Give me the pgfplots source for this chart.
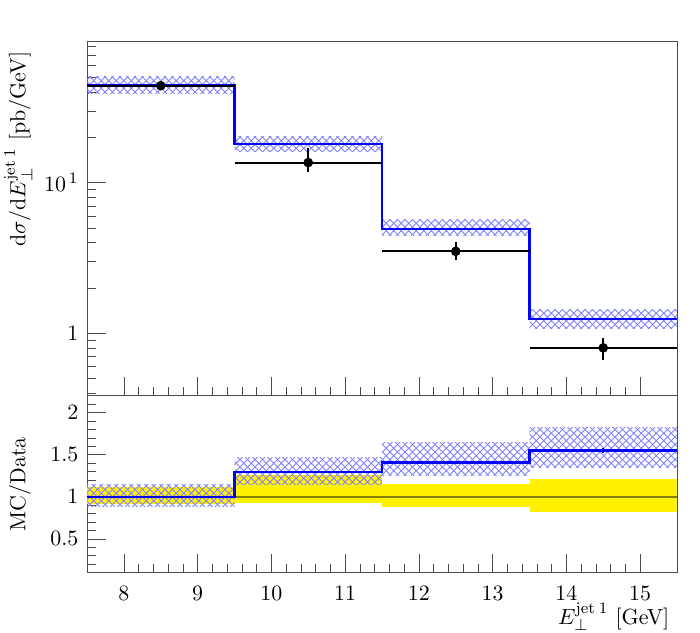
\documentclass[border=0pt]{standalone}
\usepackage{pgfplots}
\pgfplotsset{compat=1.18}
\usetikzlibrary{patterns}
\pgfdeclarepatternformonly{mycross}{\pgfqpoint{-0.5pt}{-0.5pt}}{\pgfqpoint{4.25pt}{4.25pt}}{\pgfqpoint{3.75pt}{3.75pt}}{%
 \pgfsetlinewidth{0.45pt}%
 \pgfpathmoveto{\pgfqpoint{0pt}{0pt}}\pgfpathlineto{\pgfqpoint{3.75pt}{3.75pt}}%
 \pgfpathmoveto{\pgfqpoint{0pt}{3.75pt}}\pgfpathlineto{\pgfqpoint{3.75pt}{0pt}}%
 \pgfusepath{stroke}}
\definecolor{hatch}{RGB}{130,130,255}
\definecolor{olivel}{RGB}{130,130,0}
\definecolor{mcblue}{RGB}{0,0,255}
\begin{document}
\fontsize{10.95}{13}\selectfont
\begin{tikzpicture}
\useasboundingbox (0,0) rectangle (350pt,-316pt);
\pgfplotsset{rivet/.style={scale only axis, width=295pt, xmin=7.5, xmax=15.5,
  axis line style={black!70}, tick style={black!70}, tick pos=left,
  major tick length=9.5pt, minor tick length=4.25pt, clip mode=individual,
  xtick={8,...,15}, minor x tick num=4,
  xticklabel style={yshift=-3pt}, yticklabel style={xshift=-0.5pt}}}

\begin{axis}[rivet, at={(43.5pt,-20.85pt)}, anchor=north west, height=177pt,
  ymode=log, ymin=0.385, ymax=86.3, ytick={1,10}, yticklabels={$1$,$10^{\,1}$},
  minor ytick={0.4,0.5,0.6,0.7,0.8,0.9,2,3,4,5,6,7,8,9,20,30,40,50,60,70,80},
  xticklabels={}]
\addplot[pattern=mycross, pattern color=hatch, draw=none] coordinates {(7.5,39.3)(9.5,39.3)(9.5,50.6)(7.5,50.6)} -- cycle;
\addplot[pattern=mycross, pattern color=hatch, draw=none] coordinates {(9.5,16.1)(11.5,16.1)(11.5,20.4)(9.5,20.4)} -- cycle;
\addplot[pattern=mycross, pattern color=hatch, draw=none] coordinates {(11.5,4.43)(13.5,4.43)(13.5,5.71)(11.5,5.71)} -- cycle;
\addplot[pattern=mycross, pattern color=hatch, draw=none] coordinates {(13.5,1.08)(15.5,1.08)(15.5,1.44)(13.5,1.44)} -- cycle;
\addplot[mcblue, line width=1.2pt, const plot, mark=none] coordinates {(7.5,44.6)(9.5,18.0)(11.5,4.93)(13.5,1.24)(15.5,1.24)};
\addplot[black, only marks, mark=*, mark size=2.2pt,
  error bars/.cd, x dir=both, x explicit, y dir=both, y explicit, error mark=none,
  error bar style={line width=1pt, black}] coordinates {
  (8.5,44.0) += (1,2.5) -= (1,2.5)
  (10.5,13.6) += (1,3.3) -= (1,1.8)
  (12.5,3.50) += (1,0.52) -= (1,0.43)
  (14.5,0.80) += (1,0.13) -= (1,0.135)
};
\node[rotate=90, anchor=base east] at ([xshift=-30.75pt,yshift=-1.15pt]rel axis cs:0,1)
  {$\mathrm{d}\sigma/\mathrm{d}E_{\perp}^{\mathrm{jet}\:1}$ [pb/GeV]};
\end{axis}

\begin{axis}[rivet, at={(43.5pt,-197.85pt)}, anchor=north west, height=88.4pt,
  ymin=0.1, ymax=2.2, ytick={0.5,1,1.5,2},
  minor ytick={0.2,0.3,0.4,0.6,0.7,0.8,0.9,1.1,1.2,1.3,1.4,1.6,1.7,1.8,1.9,2.1}]
\addplot[fill=yellow, draw=none] coordinates {(7.5,0.91)(9.5,0.91)(9.5,1.11)(7.5,1.11)} -- cycle;
\addplot[fill=yellow, draw=none] coordinates {(9.5,0.93)(11.5,0.93)(11.5,1.26)(9.5,1.26)} -- cycle;
\addplot[fill=yellow, draw=none] coordinates {(11.5,0.878)(13.5,0.878)(13.5,1.155)(11.5,1.155)} -- cycle;
\addplot[fill=yellow, draw=none] coordinates {(13.5,0.815)(15.5,0.815)(15.5,1.215)(13.5,1.215)} -- cycle;
\addplot[olivel, line width=0.8pt, mark=none] coordinates {(7.5,1)(15.5,1)};
\addplot[pattern=mycross, pattern color=hatch, draw=none] coordinates {(7.5,0.89)(9.5,0.89)(9.5,1.14)(7.5,1.14)} -- cycle;
\addplot[pattern=mycross, pattern color=hatch, draw=none] coordinates {(9.5,1.14)(11.5,1.14)(11.5,1.468)(9.5,1.468)} -- cycle;
\addplot[pattern=mycross, pattern color=hatch, draw=none] coordinates {(11.5,1.248)(13.5,1.248)(13.5,1.648)(11.5,1.648)} -- cycle;
\addplot[pattern=mycross, pattern color=hatch, draw=none] coordinates {(13.5,1.35)(15.5,1.35)(15.5,1.82)(13.5,1.82)} -- cycle;
\addplot[mcblue, line width=1.2pt, const plot, mark=none] coordinates {(7.5,1.0)(9.5,1.293)(11.5,1.408)(13.5,1.549)(15.5,1.549)};
\addplot[mcblue, line width=1pt, mark=none] coordinates {(14.5,1.52)(14.5,1.58)};
\node[anchor=base east] at ([yshift=-25.75pt]rel axis cs:1,0) {$E_{\perp}^{\mathrm{jet}\:1}$ [GeV]};
\node[rotate=90, anchor=base] at ([xshift=-30.75pt]rel axis cs:0,0.5) {MC/Data};
\end{axis}
\end{tikzpicture}
\end{document}
